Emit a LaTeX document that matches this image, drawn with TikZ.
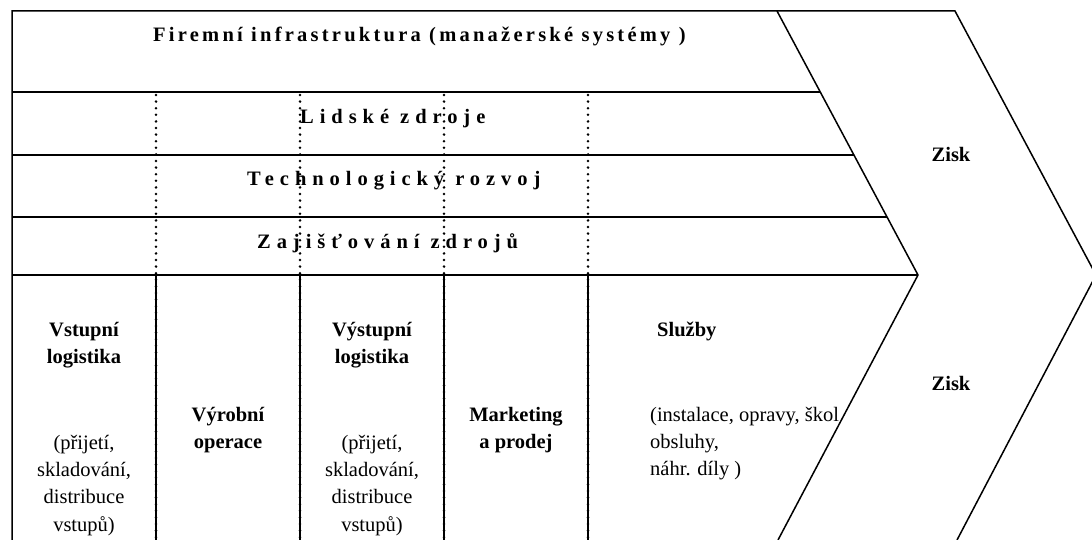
\documentclass[tikz,border=0pt]{standalone}
\usepackage{fontspec}
\setmainfont{Liberation Serif}
\newfontfamily\wideA[LetterSpace=15.8]{Liberation Serif}
\newfontfamily\wideB[LetterSpace=29]{Liberation Serif}
\tikzset{
  frame/.style={line width=1.5pt},
  dotline/.style={line width=2.8pt, line cap=round, dash pattern=on 0pt off 6.6pt},
  thinline/.style={line width=1.4pt},
  txt/.style={inner sep=0pt, anchor=base, font=\fontsize{20.5}{27}\selectfont},
  btxt/.style={inner sep=0pt, anchor=base, font=\fontsize{20.5}{27}\selectfont\bfseries},
  ltxt/.style={inner sep=0pt, anchor=base west, font=\fontsize{20.5}{27}\selectfont},
  lbtxt/.style={inner sep=0pt, anchor=base west, font=\fontsize{20.5}{27}\selectfont\bfseries},
  hdrA/.style={inner sep=0pt, anchor=base west, font=\fontsize{20.5}{27}\selectfont\wideA\bfseries},
  hdrB/.style={inner sep=0pt, anchor=base west, font=\fontsize{20.5}{27}\selectfont\wideB\bfseries},
}
\begin{document}
\begin{tikzpicture}[x=1pt,y=-1pt]
\useasboundingbox (0,0) rectangle (1092,540);
\clip (0,0) rectangle (1092,540);
% key points
\coordinate (TL) at (12,11);
\coordinate (BL) at (12,540);
\coordinate (C1) at (777,11);
\coordinate (C2) at (918,275);
\coordinate (C3) at (778,540);
\coordinate (D1) at (955,11);
\coordinate (D2) at (1096,275);
\coordinate (D3) at (957,540);
\coordinate (H1a) at (12,92);  \coordinate (H1b) at (820.3,92);
\coordinate (H2a) at (12,155); \coordinate (H2b) at (853.9,155);
\coordinate (H3a) at (12,217); \coordinate (H3b) at (887,217);
\coordinate (H4a) at (12,275);
% dotted column separators
\foreach \x in {156,300,444,588}{
  \coordinate (V\x t) at (\x,95);
  \coordinate (V\x m) at (\x,275);
  \coordinate (V\x b) at (\x,540);
  \draw[thinline] (V\x m) -- (V\x b);
  \draw[dotline] (V\x t) -- (V\x b);
}
% text: support activities
\node[hdrA] (fi) at (153,42) {Firemní infrastruktura (manažerské systémy )};
\node[hdrB] (lz) at (300,124) {Lidské zdroje};
\node[hdrB] (tr) at (247,186) {Technologický rozvoj};
\node[hdrB] (zz) at (257,248) {Zajišťování zdrojů};
% primary activities
\node[btxt] (vl1) at (84,336) {Vstupní};
\node[btxt] (vl2) at (84,363) {logistika};
\node[txt]  (vl3) at (84,449) {(přijetí,};
\node[txt]  (vl4) at (84,476) {skladování,};
\node[txt]  (vl5) at (84,503) {distribuce};
\node[txt]  (vl6) at (84,531) {vstupů)};
\node[btxt] (vo1) at (228,421) {Výrobní};
\node[btxt] (vo2) at (228,448) {operace};
\node[btxt] (xl1) at (372,336) {Výstupní};
\node[btxt] (xl2) at (372,363) {logistika};
\node[txt]  (xl3) at (372,449) {(přijetí,};
\node[txt]  (xl4) at (372,476) {skladování,};
\node[txt]  (xl5) at (372,503) {distribuce};
\node[txt]  (xl6) at (372,531) {vstupů)};
\node[btxt] (mp1) at (516,421) {Marketing};
\node[btxt] (mp2) at (516,448) {a prodej};
\node[lbtxt] (sl1) at (657,336) {Služby};
\begin{scope}
  \clip (588,275) -- (C2) -- (C3) -- (588,540) -- cycle;
  \node[ltxt] (sl2) at (650,421) {(instalace, opravy, škol};
\end{scope}
\node[ltxt] (sl3) at (650,448) {obsluhy,};
\node[ltxt] (sl4) at (650,475) {náhr. díly )};
\node[btxt] (z1) at (951,162) {Zisk};
\node[btxt] (z2) at (951,390) {Zisk};
% frame
\draw[frame] (BL) -- (TL) -- (D1) -- (D2) -- (D3);
\draw[frame] (C1) -- (C2) -- (C3);
\draw[frame] (H1a) -- (H1b);
\draw[frame] (H2a) -- (H2b);
\draw[frame] (H3a) -- (H3b);
\draw[frame] (H4a) -- (C2);
\end{tikzpicture}
\end{document}
